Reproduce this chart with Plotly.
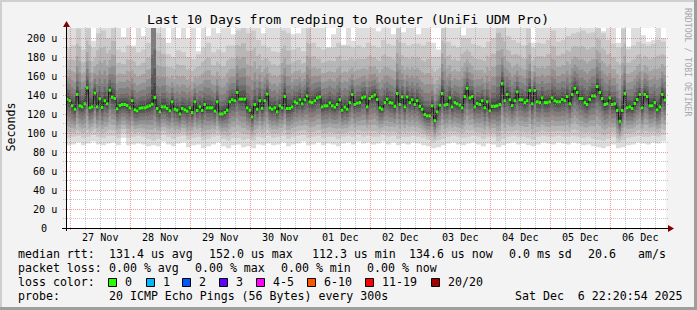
import datetime as dt
import plotly.graph_objects as go

# ---------------- data ----------------
title_text = "Last 10 Days from redping to Router (UniFi UDM Pro)"
start = dt.datetime(2025, 11, 26, 22, 20, 54)
end = start + dt.timedelta(days=10)
step_hours = 1

# median rtt (microseconds), one value per hour (240 points)
median_us = [
    135.5, 134, 128.6, 125, 140.5, 128.6, 127.5, 130.7, 147.5, 126.5,
    127.5, 142, 127.5, 136, 127, 134, 130.7, 145, 137.7, 136.3,
    125.4, 129, 130, 130, 129, 126.5, 134, 124.4, 123.3, 126,
    126.5, 126.5, 127.5, 128.6, 130.3, 137.3, 125.8, 122.3, 127.5, 127.5,
    125.8, 123.3, 132.8, 125, 124, 120, 125.8, 124.4, 123, 126.5,
    121.6, 132.8, 123.7, 127.5, 123.7, 130, 126.5, 126.5, 126.5, 123,
    132.8, 120, 120, 121.6, 124, 132.8, 135, 134, 142.6, 135.6,
    135.6, 135.6, 126.5, 124, 117, 130, 125, 134, 126, 134,
    141, 126.5, 125, 126.5, 122.3, 128.6, 126.5, 138.5, 125.8, 125.8,
    127.5, 132.8, 131.4, 135, 130.7, 135, 139, 132.8, 132, 134,
    136.9, 138, 127.5, 128.6, 128.6, 131.7, 128.6, 127.2, 130, 135,
    124, 127.2, 125, 132, 140.5, 130, 131.4, 132, 137, 138,
    127.5, 136.3, 138.4, 140, 135.3, 126.5, 125, 132, 135.6, 132,
    131.4, 128, 141.6, 130, 138, 127.5, 138, 132, 135, 130,
    134, 128, 125, 119.5, 118, 118, 128.6, 113, 122.3, 129.3,
    141.6, 129.3, 130, 137, 127.5, 132, 130.7, 129.3, 126.5, 138.4,
    147, 137, 138.4, 127.5, 131, 130, 134, 126.5, 132.8, 123.3,
    128, 128, 128.6, 130, 152, 134, 140.5, 135, 128.9, 134,
    143.3, 135, 135, 132, 134, 144.7, 130.7, 144.7, 132.8, 132,
    137, 132, 132, 132.8, 137, 134, 132.8, 132.8, 135.3, 134,
    138.4, 130.7, 140.5, 147, 142.6, 136.3, 136.3, 132, 130, 135.3,
    139, 139, 148.9, 142.6, 136.3, 130, 130.7, 137, 130, 130.7,
    123.7, 112.3, 123.7, 141.6, 126.5, 127.5, 125.8, 131, 135.3, 140.5,
    126.5, 140.5, 138.4, 128.6, 128.6, 132, 124.4, 127.5, 140.5, 134.6,
]

# smoke: sorted ping values per 2-hour column (120 columns)
ping_min = [  # 1st of 20 pings
    87, 88, 90, 87, 89, 91, 88, 87, 89, 90, 87, 95, 87, 88, 89, 88, 86, 87, 86, 91,
    88, 86, 89, 90, 85, 87, 88, 84, 86, 88, 90, 86, 84, 87, 88, 85, 86, 84, 88, 87,
    89, 87, 88, 90, 86, 88, 89, 91, 87, 88, 90, 87, 89, 88, 86, 89, 90, 88, 91, 89,
    90, 88, 89, 91, 88, 90, 87, 89, 88, 90, 89, 87, 86, 84, 85, 87, 89, 90, 88, 87,
    89, 90, 88, 86, 89, 88, 85, 87, 89, 90, 88, 89, 87, 86, 88, 90, 89, 88, 90, 89,
    88, 90, 89, 87, 88, 86, 85, 84, 86, 88, 84, 85, 87, 88, 90, 89, 88, 90, 89, 91,
]
ping_low = [  # 2nd of 20 pings
    95, 96, 97, 95, 96, 98, 96, 95, 97, 97, 95, 100, 95, 96, 97, 96, 94, 92, 94, 98,
    96, 94, 96, 97, 93, 95, 96, 92, 94, 96, 97, 94, 92, 95, 95, 93, 94, 92, 96, 95,
    97, 95, 96, 97, 94, 96, 97, 98, 95, 96, 97, 95, 96, 96, 94, 96, 97, 96, 98, 96,
    97, 96, 96, 98, 96, 97, 94, 96, 96, 97, 96, 95, 93, 90, 92, 94, 96, 97, 96, 95,
    96, 97, 96, 94, 96, 96, 91, 94, 96, 97, 96, 96, 95, 93, 96, 97, 96, 96, 97, 96,
    96, 97, 96, 95, 96, 94, 93, 92, 94, 96, 90, 92, 95, 96, 97, 96, 96, 97, 96, 98,
]
ping_high = [  # 19th of 20 pings
    190, 192, 210, 188, 212, 190, 205, 208, 200, 215, 188, 185, 192, 190, 185, 188, 195, 390, 205, 200,
    183, 180, 187, 185, 180, 178, 183, 190, 195, 185, 188, 185, 192, 192, 208, 212, 205, 208, 198, 192,
    190, 186, 185, 208, 205, 188, 190, 186, 212, 195, 190, 188, 190, 190, 195, 192, 192, 190, 192, 190,
    195, 192, 190, 198, 194, 192, 215, 195, 192, 194, 194, 192, 196, 180, 180, 214, 196, 192, 190, 200,
    200, 194, 192, 190, 196, 200, 228, 215, 202, 198, 195, 192, 210, 190, 195, 194, 198, 208, 196, 198,
    202, 205, 206, 208, 205, 206, 215, 205, 198, 194, 190, 210, 188, 192, 196, 194, 192, 194, 198, 196,
]
ping_max = [  # 20th of 20 pings
    240, 240, 240, 240, 240, 197, 240, 240, 240, 240, 240, 201, 240, 192, 240, 202, 240, 240, 240, 240,
    195, 240, 200, 240, 200, 240, 186, 240, 202, 240, 205, 240, 240, 204, 240, 240, 240, 240, 240, 205,
    240, 240, 240, 240, 240, 204, 205, 240, 240, 240, 240, 240, 190, 204, 240, 193, 240, 197, 240, 240,
    240, 240, 207, 240, 240, 204, 240, 206, 240, 240, 204, 240, 240, 195, 188, 240, 240, 240, 240, 203,
    240, 240, 240, 240, 240, 240, 240, 240, 240, 240, 240, 240, 240, 195, 240, 240, 240, 240, 240, 240,
    240, 240, 240, 240, 240, 240, 240, 207, 240, 240, 195, 240, 191, 240, 240, 203, 196, 198, 240, 200,
]
# where pings 3..10 sit between median and 2nd ping, and 11..18 between median and 19th ping
lower_share = [0.86, 0.71, 0.57, 0.43, 0.29, 0.17, 0.085, 0.03]
upper_share = [0.015, 0.06, 0.12, 0.2, 0.31, 0.43, 0.58, 0.77]

y_tick_values = [0, 20, 40, 60, 80, 100, 120, 140, 160, 180, 200]
y_tick_texts = ["0", "20 u", "40 u", "60 u", "80 u", "100 u", "120 u", "140 u", "160 u", "180 u", "200 u"]
day_labels = ["27 Nov", "28 Nov", "29 Nov", "30 Nov", "01 Dec", "02 Dec", "03 Dec", "04 Dec", "05 Dec", "06 Dec"]

legend_rows = [
    [("median rtt:", 16), ("131.4 us avg", 107), ("152.0 us max", 207), ("112.3 us min", 310),
     ("134.6 us now", 407), ("0.0 ms sd", 507), ("20.6", 586), ("am/s", 636)],
    [("packet loss:", 16), ("0.00 % avg", 107), ("0.00 % max", 193), ("0.00 % min", 279), ("0.00 % now", 365)],
    [("loss color:", 16)],
    [("probe:", 16), ("20 ICMP Echo Pings (56 Bytes) every 300s", 107), ("Sat Dec  6 22:20:54 2025", 513)],
]
loss_labels = ["0", "1", "2", "3", "4-5", "6-10", "11-19", "20/20"]
loss_colors = ["#26ff00", "#00b8ff", "#0059ff", "#5e00ff", "#ff00ff", "#ff5500", "#ff0000", "#a10000"]
loss_box_x = [108, 146, 182, 219, 256, 307, 365, 431]

# ---------------- geometry ----------------
W, H = 697, 310
L, T, PW, PH = 66, 28, 600, 200
YMAX = 200 / 0.95
MONO = "DejaVu Sans Mono"


def pxx(px):
    return (px - L) / PW


def pxy(py):
    return (T + PH - py) / PH


def time_px(t):
    return L + PW * (t - start).total_seconds() / (end - start).total_seconds()


def val_py(v):
    return T + PH - v * PH / YMAX


n = len(median_us)
times = [start + dt.timedelta(hours=step_hours * i) for i in range(n + 1)]

# 20 sorted pings per point
pings = []
for i, m in enumerate(median_us):
    j = i // 2
    p2 = ping_low[j]
    p19 = ping_high[j]
    row = [ping_min[j], p2]
    row += [m - (m - p2) * f for f in lower_share]
    row += [m + (p19 - m) * f for f in upper_share]
    row += [p19, ping_max[j]]
    pings.append(row)

fig = go.Figure()
for k in range(10):
    g = int(190 / 10 * (10 - (k + 1))) + 50
    col = "#%02x%02x%02x" % (g, g, g)
    lo = [p[k] for p in pings]
    hi = [p[19 - k] for p in pings]
    fig.add_trace(go.Scatter(x=times, y=lo + [lo[-1]], mode="lines", line=dict(width=0, shape="hv"),
                             showlegend=False, hoverinfo="skip"))
    fig.add_trace(go.Scatter(x=times, y=hi + [hi[-1]], mode="lines", line=dict(width=0, shape="hv"),
                             fill="tonexty", fillcolor=col, showlegend=False, hoverinfo="skip"))

# median: dark step connector + green level segments
fig.add_trace(go.Scatter(x=times, y=median_us + [median_us[-1]], mode="lines",
                         line=dict(width=1, color="#1a1a1a", shape="hv"), showlegend=False, hoverinfo="skip"))
gx, gy = [], []
for i, m in enumerate(median_us):
    gx += [times[i], times[i + 1], None]
    gy += [m, m, None]
fig.add_trace(go.Scatter(x=gx, y=gy, mode="lines", line=dict(width=3, color=loss_colors[0]),
                         showlegend=False, hoverinfo="skip"))

shapes = []
# grid
t = dt.datetime(2025, 11, 27, 0, 0, 0)
while t < end:
    px = int(time_px(t)) + 0.5
    major = t.hour == 0
    shapes.append(dict(type="line", xref="paper", yref="paper", x0=pxx(px), x1=pxx(px),
                       y0=pxy(230), y1=pxy(27), layer="above",
                       line=dict(color="rgba(222,95,95,0.6)" if major else "rgba(143,143,143,0.5)",
                                 width=1, dash="1px,1px")))
    t += dt.timedelta(hours=6)
for v in range(10, 210, 10):
    py = int(val_py(v)) + 0.5
    major = v % 20 == 0
    shapes.append(dict(type="line", xref="paper", yref="paper", x0=pxx(63), x1=pxx(669),
                       y0=pxy(py), y1=pxy(py), layer="above",
                       line=dict(color="rgba(222,95,95,0.6)" if major else "rgba(143,143,143,0.5)",
                                 width=1, dash="1px,1px")))
# axes
shapes.append(dict(type="line", xref="paper", yref="paper", x0=pxx(62), x1=pxx(669), y0=pxy(228.5), y1=pxy(228.5),
                   layer="above", line=dict(color="#000000", width=1)))
shapes.append(dict(type="line", xref="paper", yref="paper", x0=pxx(66.5), x1=pxx(66.5), y0=pxy(231), y1=pxy(26),
                   layer="above", line=dict(color="#000000", width=1)))
shapes.append(dict(type="path", xref="paper", yref="paper", layer="above",
                   path="M %f %f L %f %f L %f %f Z" % (pxx(668), pxy(225), pxx(674), pxy(228.5), pxx(668), pxy(232)),
                   fillcolor="#7f0000", line=dict(width=0)))
shapes.append(dict(type="path", xref="paper", yref="paper", layer="above",
                   path="M %f %f L %f %f L %f %f Z" % (pxx(63), pxy(27), pxx(66.5), pxy(21), pxx(70), pxy(27)),
                   fillcolor="#7f0000", line=dict(width=0)))
# frame
shapes.append(dict(type="rect", xref="paper", yref="paper", x0=pxx(0), x1=pxx(W), y0=pxy(0), y1=pxy(2),
                   fillcolor="#cfcfcf", line=dict(width=0), layer="above"))
shapes.append(dict(type="rect", xref="paper", yref="paper", x0=pxx(0), x1=pxx(2), y0=pxy(0), y1=pxy(H),
                   fillcolor="#cfcfcf", line=dict(width=0), layer="above"))
shapes.append(dict(type="rect", xref="paper", yref="paper", x0=pxx(0), x1=pxx(W), y0=pxy(H - 3), y1=pxy(H),
                   fillcolor="#9e9e9e", line=dict(width=0), layer="above"))
shapes.append(dict(type="rect", xref="paper", yref="paper", x0=pxx(W - 3), x1=pxx(W), y0=pxy(0), y1=pxy(H),
                   fillcolor="#9e9e9e", line=dict(width=0), layer="above"))
# loss colour boxes
for bx, c in zip(loss_box_x, loss_colors):
    shapes.append(dict(type="rect", xref="paper", yref="paper", x0=pxx(bx + 0.5), x1=pxx(bx + 8.5),
                       y0=pxy(278.5), y1=pxy(286.5), fillcolor=c, line=dict(color="#000000", width=1)))

ann = []
ann.append(dict(text=title_text, x=pxx(347.5), y=pxy(19), xref="paper", yref="paper", showarrow=False,
                xanchor="center", yanchor="middle", font=dict(family=MONO, size=13.1, color="#000000")))
ann.append(dict(text="Seconds", x=pxx(10.5), y=pxy(127), xref="paper", yref="paper", showarrow=False,
                textangle=-90, xanchor="center", yanchor="middle", font=dict(family=MONO, size=11.6, color="#000000")))
ann.append(dict(text="RRDTOOL / TOBI OETIKER", x=pxx(688), y=pxy(62), xref="paper", yref="paper", showarrow=False,
                textangle=90, xanchor="center", yanchor="middle", font=dict(family=MONO, size=8.2, color="#a8a8a8")))
for v, txt in zip(y_tick_values, y_tick_texts):
    ann.append(dict(text=txt, x=pxx(48.5 if v == 0 else 59), y=v, xref="paper", yref="y", showarrow=False,
                    xanchor="right", yanchor="middle", font=dict(family=MONO, size=10.1, color="#000000")))
for d, lab in enumerate(day_labels):
    noon = dt.datetime(2025, 11, 27, 12) + dt.timedelta(days=d)
    ann.append(dict(text=lab, x=noon, y=pxy(237.5), xref="x", yref="paper", showarrow=False,
                    xanchor="center", yanchor="middle", font=dict(family=MONO, size=10.1, color="#000000")))
row_y = [254, 268, 282, 296]
for ry, row in zip(row_y, legend_rows):
    for txt, x0 in row:
        ann.append(dict(text=txt.replace(" ", "\u00a0"), x=pxx(x0), y=pxy(ry), xref="paper", yref="paper",
                        showarrow=False, xanchor="left", yanchor="middle",
                        font=dict(family=MONO, size=11.6, color="#000000")))
for bx, lab in zip(loss_box_x, loss_labels):
    ann.append(dict(text=lab, x=pxx(bx + 15), y=pxy(282), xref="paper", yref="paper", showarrow=False,
                    xanchor="left", yanchor="middle", font=dict(family=MONO, size=11.6, color="#000000")))

fig.update_layout(
    width=W, height=H, autosize=False,
    margin=dict(l=L, r=W - L - PW, t=T, b=H - T - PH, pad=0),
    paper_bgcolor="#f3f3f3", plot_bgcolor="#ffffff",
    showlegend=False,
    xaxis=dict(type="date", range=[start, end], showgrid=False, zeroline=False, showline=False,
               showticklabels=False, ticks="", fixedrange=True),
    yaxis=dict(range=[0, YMAX], showgrid=False, zeroline=False, showline=False,
               showticklabels=False, ticks="", fixedrange=True),
    shapes=shapes, annotations=ann,
)
fig.write_html("out.html")
